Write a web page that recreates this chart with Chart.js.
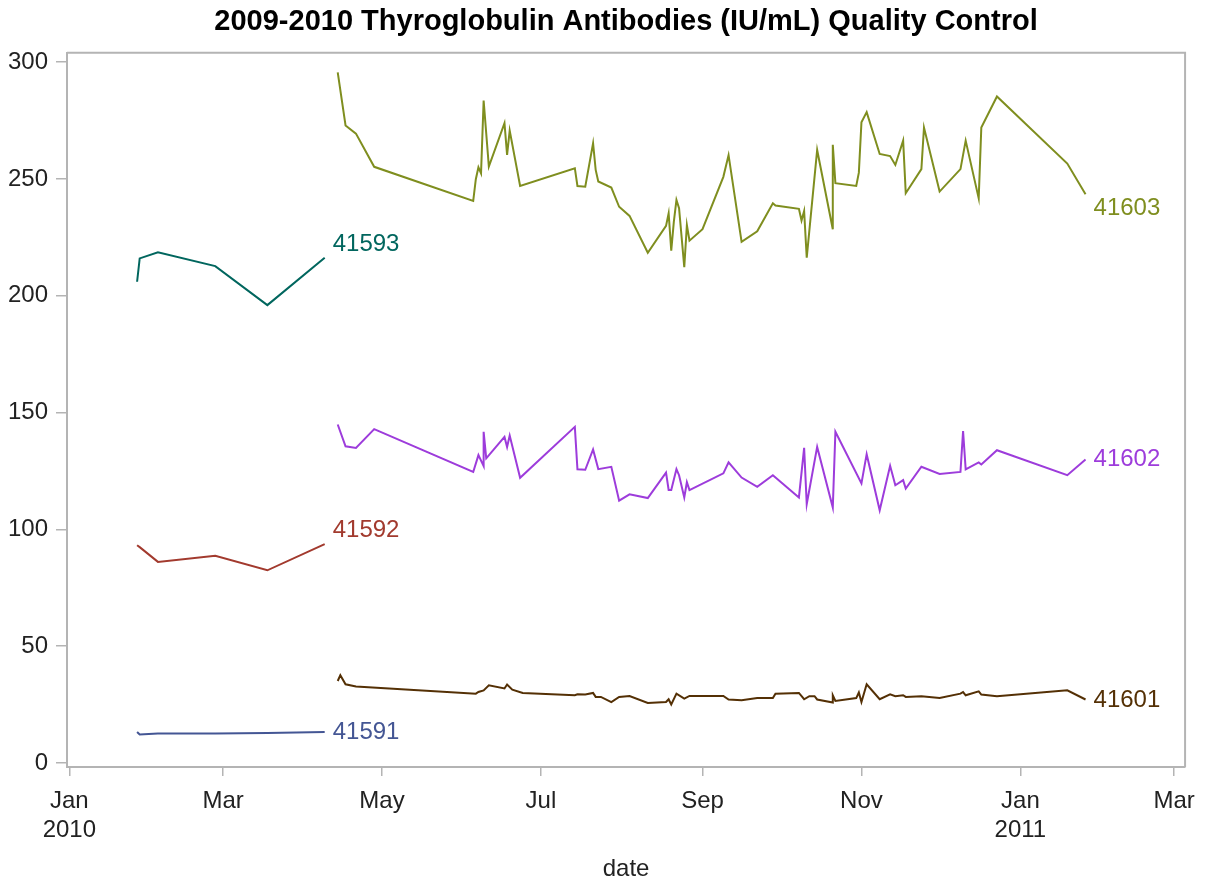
<!DOCTYPE html>
<html>
<head>
<meta charset="utf-8">
<script src="https://cdn.jsdelivr.net/npm/chart.js@4"></script>
<style>
  html, body { margin: 0; padding: 0; background: #fff; }
</style>
</head>
<body>
<canvas id="qcChart" width="1206" height="884"></canvas>
<script>
// lot 1 (early 2010)
const lot1Dates = ['2010-01-27', '2010-01-28', '2010-02-04', '2010-02-26', '2010-03-18', '2010-04-09'];
const qc41591 = [13.3, 12.2, 12.6, 12.6, 12.8, 13.3];
const qc41592 = [93.2, 92.4, 86.1, 88.7, 82.5, 93.7];
const qc41593 = [206.0, 216.0, 218.6, 212.7, 196.0, 216.3];

// lot 2 (Apr 2010 - Jan 2011)
const dates41601 = ['2010-04-14','2010-04-15','2010-04-17','2010-04-21','2010-06-06','2010-06-07','2010-06-09','2010-06-11','2010-06-17','2010-06-18','2010-06-20','2010-06-24','2010-07-14','2010-07-15','2010-07-18','2010-07-21','2010-07-22','2010-07-24','2010-07-28','2010-07-31','2010-08-04','2010-08-11','2010-08-18','2010-08-19','2010-08-20','2010-08-22','2010-08-25','2010-08-27','2010-09-09','2010-09-11','2010-09-16','2010-09-22','2010-09-28','2010-09-29','2010-10-08','2010-10-10','2010-10-12','2010-10-14','2010-10-15','2010-10-21','2010-10-21','2010-10-22','2010-10-30','2010-10-31','2010-11-01','2010-11-03','2010-11-08','2010-11-12','2010-11-14','2010-11-17','2010-11-18','2010-11-24','2010-12-01','2010-12-09','2010-12-10','2010-12-11','2010-12-16','2010-12-17','2010-12-23','2011-01-19','2011-01-26'];
const qc41601 = [35.1,37.6,33.7,32.8, 29.7,30.4,31.1,33.3,31.9,33.6,31.4,30.0, 29.0,29.4,29.3,30.0,28.3,28.3,26.1,28.3, 28.7,25.7,26.1,27.3,25.1,29.7,27.6,28.7, 28.7,27.2,26.9,27.8,27.8,29.7, 30.0,27.3,28.6,28.6,27.2,25.9,29.0,26.6,27.8,30.2, 26.1,33.7,27.3,29.4,28.6,29.0,28.3,28.6, 27.8,29.7,30.4,29.0,30.7,29.3,28.6, 31.1,27.2];

const dates41602 = ['2010-04-14','2010-04-17','2010-04-21','2010-04-28','2010-06-05','2010-06-07','2010-06-09','2010-06-09','2010-06-10','2010-06-17','2010-06-18','2010-06-19','2010-06-23','2010-07-14','2010-07-15','2010-07-18','2010-07-21','2010-07-23','2010-07-28','2010-07-31','2010-08-04','2010-08-11','2010-08-18','2010-08-19','2010-08-20','2010-08-22','2010-08-23','2010-08-25','2010-08-26','2010-08-27','2010-09-09','2010-09-11','2010-09-16','2010-09-22','2010-09-28','2010-10-08','2010-10-10','2010-10-11','2010-10-15','2010-10-21','2010-10-22','2010-11-01','2010-11-03','2010-11-08','2010-11-12','2010-11-14','2010-11-17','2010-11-18','2010-11-24','2010-12-01','2010-12-09','2010-12-10','2010-12-11','2010-12-16','2010-12-17','2010-12-23','2011-01-19','2011-01-26'];
const qc41602 = [144.9,135.6,134.9,142.9, 124.6,131.8,127.1,141.8,130.4,139.6,135.3,140.2,122.1, 143.9,125.7,125.5,134.2,125.8,126.8,112.3, 115.0,113.4,124.3,116.9,116.9,125.8,123.2,113.7,120.2,116.8, 124.0,128.7,122.2,118.2,123.2, 113.7,134.9,110.8,135.3,109.4,141.8, 119.7,132.2,108.2,127.2,118.9,121.1,117.5,126.8, 123.7,124.6,142.1,125.7,128.7,127.8,133.9, 123.2,129.9];

const dates41603 = ['2010-04-14','2010-04-17','2010-04-21','2010-04-28','2010-06-05','2010-06-06','2010-06-07','2010-06-08','2010-06-09','2010-06-11','2010-06-17','2010-06-18','2010-06-19','2010-06-23','2010-07-14','2010-07-15','2010-07-18','2010-07-21','2010-07-22','2010-07-23','2010-07-28','2010-07-31','2010-08-04','2010-08-11','2010-08-18','2010-08-19','2010-08-20','2010-08-21','2010-08-22','2010-08-23','2010-08-25','2010-08-26','2010-08-27','2010-09-01','2010-09-09','2010-09-11','2010-09-16','2010-09-22','2010-09-28','2010-09-29','2010-10-08','2010-10-09','2010-10-10','2010-10-11','2010-10-15','2010-10-21','2010-10-21','2010-10-22','2010-10-30','2010-10-31','2010-11-01','2010-11-03','2010-11-08','2010-11-12','2010-11-14','2010-11-17','2010-11-18','2010-11-24','2010-11-25','2010-12-01','2010-12-09','2010-12-11','2010-12-16','2010-12-17','2010-12-23','2011-01-19','2011-01-26'];
const qc41603 = [295.6,272.9,269.4,255.2, 240.6,249.9,255.0,252.4,283.6,255.3,273.9,260.3,270.7,247.0, 254.6,247.0,246.7,265.3,253.9,248.9,246.3,238.1, 234.2,218.4,229.9,235.3,219.3,231.7,241.0,237.5,212.2,230.3,223.6, 228.5,250.9,260.2,223.1,227.6,239.6,238.6, 237.2,232.2,236.3,216.3,262.4,228.5,264.6,248.2,247.0,252.7, 274.3,278.6,260.7,259.8,256.0,266.4,243.9,254.2,272.0, 244.6,254.2,266.4,241.7,272.0,285.3, 256.6,243.5];

const xTickDates = ['2010-01-01','2010-03-01','2010-05-01','2010-07-01','2010-09-01','2010-11-01','2011-01-01','2011-03-01'];
const xTickLabels = [['Jan','2010'], 'Mar', 'May', 'Jul', 'Sep', 'Nov', ['Jan','2011'], 'Mar'];
const yTicks = [0, 50, 100, 150, 200, 250, 300];

// days since 1 Jan 2010
const dayOf = s => {
  const [y, m, d] = s.split('-').map(Number);
  return (Date.UTC(y, m - 1, d) - Date.UTC(2010, 0, 1)) / 864e5;
};
const toPoints = (dates, vals) => dates.map((d, i) => ({ x: dayOf(d), y: vals[i] }));

Chart.defaults.font.family = '"Liberation Sans", Arial, sans-serif';

const frameColor = '#b4b4b4';

const series = [
  { label: '41591', dates: lot1Dates, vals: qc41591, color: '#445694', dy: 0 },
  { label: '41592', dates: lot1Dates, vals: qc41592, color: '#a23a2e', dy: -14 },
  { label: '41593', dates: lot1Dates, vals: qc41593, color: '#01665e', dy: -13 },
  { label: '41601', dates: dates41601, vals: qc41601, color: '#543005', dy: 1 },
  { label: '41602', dates: dates41602, vals: qc41602, color: '#9d3cdb', dy: 0 },
  { label: '41603', dates: dates41603, vals: qc41603, color: '#7f8e1f', dy: 14 }
];

// top/right edges of the plot frame
const framePlugin = {
  id: 'frame',
  afterDraw(chart) {
    const { ctx, chartArea: a } = chart;
    ctx.save();
    ctx.strokeStyle = frameColor;
    ctx.lineWidth = 2;
    ctx.beginPath();
    ctx.moveTo(a.left, a.top);
    ctx.lineTo(a.right, a.top);
    ctx.lineTo(a.right, a.bottom);
    ctx.stroke();
    ctx.restore();
  }
};

// series name at the end of each line
const endLabels = {
  id: 'endLabels',
  afterDatasetsDraw(chart) {
    const ctx = chart.ctx;
    ctx.save();
    ctx.font = '24px "Liberation Sans", Arial, sans-serif';
    ctx.textBaseline = 'middle';
    ctx.textAlign = 'left';
    chart.data.datasets.forEach((ds, i) => {
      const pts = chart.getDatasetMeta(i).data;
      const last = pts[pts.length - 1];
      ctx.fillStyle = ds.borderColor;
      ctx.fillText(ds.label, last.x + 8, last.y + ds.labelDy);
    });
    ctx.restore();
  }
};

new Chart(document.getElementById('qcChart'), {
  type: 'line',
  data: {
    datasets: series.map(s => ({
      label: s.label,
      data: toPoints(s.dates, s.vals),
      borderColor: s.color,
      borderWidth: 2,
      pointRadius: 0,
      tension: 0,
      fill: false,
      labelDy: s.dy
    }))
  },
  options: {
    responsive: false,
    animation: false,
    layout: { padding: { left: 0, right: 20, top: 0, bottom: 0 } },
    plugins: {
      legend: { display: false },
      tooltip: { enabled: false },
      title: {
        display: true,
        fullSize: false,
        text: '2009-2010 Thyroglobulin Antibodies (IU/mL) Quality Control',
        color: '#000',
        font: { size: 29, weight: 'bold' },
        padding: { top: 5, bottom: 13 }
      }
    },
    scales: {
      x: {
        type: 'linear',
        min: -0.9,
        max: 428.2,
        afterBuildTicks: s => { s.ticks = xTickDates.map(d => ({ value: dayOf(d) })); },
        afterFit: s => { s.height = 117; },
        ticks: {
          autoSkip: false,
          maxRotation: 0,
          padding: 11,
          color: '#222',
          font: { size: 24 },
          callback: (v, i) => xTickLabels[i]
        },
        grid: { drawOnChartArea: false, drawTicks: true, tickLength: 9, color: frameColor, lineWidth: 1.5 },
        border: { display: true, color: frameColor, width: 2 },
        title: { display: true, text: 'date', color: '#222', font: { size: 24 }, padding: { top: 0, bottom: 0 } }
      },
      y: {
        type: 'linear',
        min: -1.7,
        max: 304,
        afterBuildTicks: s => { s.ticks = yTicks.map(v => ({ value: v })); },
        afterFit: s => { s.width = 67; },
        ticks: { padding: 8, color: '#222', font: { size: 24 } },
        grid: { drawOnChartArea: false, drawTicks: true, tickLength: 11, color: frameColor, lineWidth: 1.5 },
        border: { display: true, color: frameColor, width: 2 }
      }
    }
  },
  plugins: [framePlugin, endLabels]
});
</script>
</body>
</html>
